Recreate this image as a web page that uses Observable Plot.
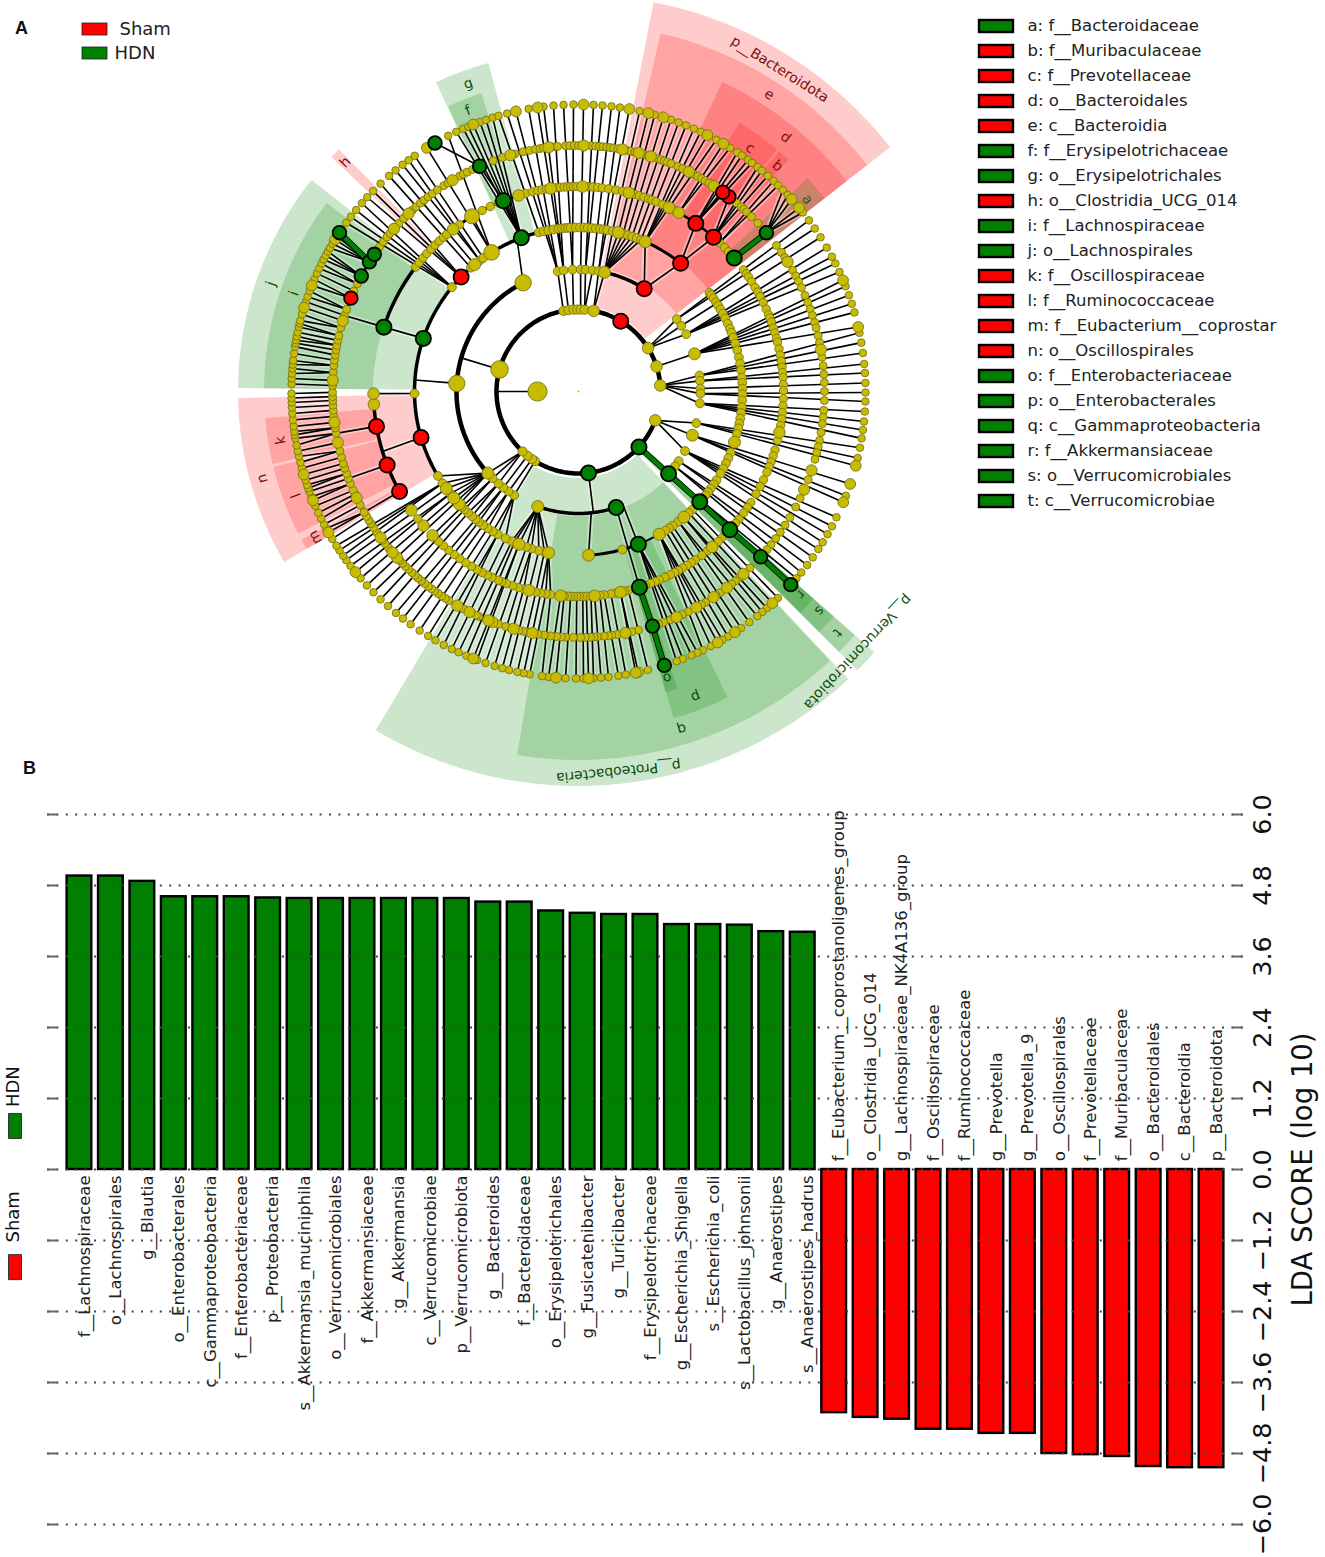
<!DOCTYPE html>
<html><head><meta charset="utf-8">
<script src="https://cdn.jsdelivr.net/npm/d3@7"></script>
<script src="https://cdn.jsdelivr.net/npm/@observablehq/plot@0.6"></script>
<style>html,body{margin:0;padding:0;background:#fff}svg{display:block}</style>
</head><body><div id="top"></div><div id="bottom"></div>
<script>
const FONT = "DejaVu Sans";
const GREEN = "#008000", RED = "#ff0000", YELLOW = "#c8bc00";

// ---------- panel A data: angle in degrees, clockwise from east ----------
const ringRadius = {0.5: 41, 1: 82, 2: 122, 3: 164, 4: 205, 5: 246, 6: 287};

const ring6 = [-36.6,-34.6,-32.5,-30.1,-28,-26.5,-24.6,-21.5,-19.6,-17.8,-16,-11.8,-9.8,-7.7,-5.5,-3.7,-1.7,0.2,2,4,6,7.7,9.4,11.3,13.4,21.3,26,28,29.8,31.7,33.3,35.3,37.2,39.1,40.6,
 46,49,50.2,51.5,53.5,55.5,58.6,59.9,62.5,64.3,65.5,66.8,68.7,70,76,80.5,82,84,85.5,87,89,90.5,92.6,96,97.3,99.8,101,102.3,104,105.4,107,108.9,110.7,113,114.7,116.2,118,119.9,121.6,123.6,125.8,127.7,129.5,131.6,133.6,135.6,137.5,139.4,142.6,144,145.1,146.4,147.5,149.1,151.5,152.4,153.7,155,156.5,158.5,159.6,160.3,161,162,164.5,165.7,166.9,168,169.2,170.6,171.3,172,173,174.3,175.6,176.8,177.8,178.7,179.6,
 -178.5,-177.4,-176.4,-175.4,-174.6,-173.8,-172.4,-171,-170.3,-169.7,-168.9,-168.1,-167,-166.3,-165.7,-164.4,-161.8,-160.7,-159.5,-157,-155.7,-154.6,-153.5,-152.6,-151.7,-150.8,-150,-149,-147.3,-144,-142.5,-140.8,-139,-137.4,-135.7,-133.6,-131.3,-129.6,-127.8,-126.3,-124.8,-117,-115.2,-113.7,-112.6,-110.1,-108.8,-107.4,-106.2,-104.4,-100,-97,-95,-93,-91,-87,-85.2,-83.4,-81.7,-77.7,-74.6,-71.2,-69.6,-68,-66.3,-64.8,-61.3,-58.1,-56.4,-55.3,-53.8,-52.8,-51.4,-50.3,-48.7,-47.2,-45.9,-44.6,-43.2,-38.6];
const ring6Big = [-22.8,-13,15,18.8,22.7,47.5,57,61,78,78.5,88,94.5,111.5,141,150.6,157.7,163.2,-163,-158.3,-148,-121.9,-111.5,-102.6,-98.2,-89,-79.8,-75.9,-72.8,-63.3,-59.7,-42,-39.8];

const ring5 = [-36.4,-34.4,-33,-29.5,-28,-26.6,-25,-23,-21.2,-19.6,-18,-16.3,-15,-13.1,-11.5,-8,-6,-4,-2.1,0,2.1,4.4,6,7.5,9.6,11.5,13,14.4,16,21,25.7,28,30.8,32.9,34.9,36.7,38.5,40,45.8,49,50.3,51.5,54.9,56,58.9,60,63.5,65,67.2,68,69.8,71,75.9,77.5,80.9,82.2,83,84,85.6,86.4,87.2,88.4,89.5,91.2,93,94,95.1,96.5,98,99.5,102,103,104,106,107.2,109,113.9,114.5,117.8,121.8,122.8,123.8,124.8,125.8,126.7,127.6,128.7,129.7,130.7,131.6,132.6,133.7,134.7,135.7,136.6,140.5,141.8,142.8,145,146.4,147.5,148.4,149.5,150.6,152.5,155.3,156.3,158,159.3,160.5,161.8,163,164.5,166,170.2,171.5,174.2,175.6,176.8,177.9,178.8,179.8,
 -178.6,-175.6,-173.9,-172.7,-171.5,-170.3,-169.2,-168,-166.9,-165,-162,-160.5,-155.9,-154,-144,-142.5,-141.1,-140,-136.9,-135.3,-132.5,-131.4,-130,-128.9,-127.7,-126.5,-125,-123.2,-122,-118.9,-117.9,-116.9,-115.5,-110.3,-108,-105,-103,-101.5,-100.1,-99,-98.2,-96,-94.9,-93,-92,-91,-90,-87,-86,-85.1,-84.3,-83.4,-82.6,-81.8,-80.8,-78.7,-77.7,-76.7,-74.4,-73.6,-71.2,-70.4,-69.6,-68.8,-67.9,-66.2,-65,-62,-61,-60,-59,-58,-50,-48.6,-47.8,-46.9,-45.3,-43.2];
const ring5Big = [-31.8,-9.8,18.7,23.5,47.9,52.9,56.7,61.4,66.5,79,100.8,105.3,110.5,111.5,116.3,119.5,137.5,139.1,143.6,154.4,168,172.8,-177.4,-163.3,-138.6,-133.7,-120.8,-106.1,-97,-88.8,-79.7,-75.8,-72.9,-63.3,-56.6];

const ring4 = [-36.4,-35,-34,-32.4,-30.5,-29,-27.6,-25.7,-23.7,-22,-21,-19.8,-18,-16.6,-15,-13.9,-12,-10.2,-8.5,-6.8,-5.3,-3.9,-2,-0.3,2,4,5.9,7.7,9.5,13.8,16.6,18.3,20.1,21.6,23.2,25.5,27.6,30,32.8,34.5,36.3,38.5,40,45.6,47,51,53,55.3,56.6,58,59.4,60.8,62,63.4,65,66.8,68,69.4,71,75.9,77,79.5,80.9,82.8,84,86.5,87.8,88.8,89.7,90.5,91.4,92.2,93,94,97.8,99.2,100.6,102,105.5,107,108.7,110.6,112,113,115,116.4,118,119.6,121.5,123.4,125.4,127.3,129.3,131.2,133,141.6,
 -142.6,-141,-139.3,-137.7,-136,-134.4,-132.8,-131.2,-130,-125.5,-118,-115.5,-113,-105,-103,-101.5,-100.2,-99,-96.4,-95.1,-94,-93.1,-92.2,-91.4,-90.5,-87.4,-86,-84.6,-83.3,-81.5,-79.5,-77.6,-74,-72.7,-71.4,-70,-69,-67.8,-65.8,-62,-46.5,-44.6,-43];
const ring4Big = [11.5,49.3,78.2,85.5,95,104,135.4,139.1,144.6,176.4,179.4,-127.7,-107,-97.8,-88.9,-75.8,-63.8,-60.7];
const ring4Huge = [-121.3];

const ring3 = [-37,-36,-34.6,-33,-31.6,-30,-28.3,-26.5,-24.4,-22.5,-21,-19.2,-17,-14.5,-12,-9.8,-7.5,-4.9,-3,-1,1,3.1,5.5,7.5,9.5,11.3,13,15,21.9,24,26,28,30,32.8,34.5,36.3,37.8,39.3,46,47.8,52.5,55,56.5,58,74.5,102,104,106.7,108.5,113,114,116.4,119.5,121.5,123.6,125.5,127.4,128.8,130.5,132.3,134,135.3,138,141.5,146,149,179.3,-140.5,-131,-127,-125.5,-104,-102.3,-100.6,-98.8,-97,-95.8,-94.6,-93.7,-92.8,-91,-89.5,-88,-86.8,-85.4,-84,-82.5,-81.2,-80,-78,-74.2,-72.6,-70.9,-69.2,-67.6];
const ring3Big = [18,50,60.5,86.5,100.5,111.3,136.6,139.5,143.7,-129.3,-75.9,-66];
const ring3Huge = [-122];

const ring2 = [-36.4,-32.6,-28,-7.5,-5,-1.4,1,5.6,15,29.2,34.8,37.8,121.8,125,128,131,134.7,-99.8,-97,-92.8,-89,-86.7,-83.4,-80.5];
const ring2Big = [-18,21,109.5,138,-77.7];
const ring2Huge = [-176.2,-117];

const ring1 = [122,124.5,128.5,133,-100.6,-97,-93.5,-90.8,-88.5,-85.7];
const ring1Big = [-32,-17.8,-4.2,20.6,-79.4];
const ring1Huge = [-164.4];
const innerBig = [180];

const shamNodes = [[1,-59],[2,-57.4],[3,-51.5],[4,-55.1],[4,-48.8],[5,-52.3],[5,-54.1],[3,-135.7],[5,-157.7],[3,163.7],[4,170.2],[4,159],[4,150.8]];
const hdnNodes = [[1,83],[1,42.5],[2,72],[2,42.4],[3,42.3],[4,42.4],[5,42.2],[6,42.3],[3,68.6],[4,72.7],[5,72.5],[6,72.6],[4,-40.6],[5,-40.2],[3,-161.1],[4,-161.7],[3,-110.4],[4,-111.5],[5,-113.7],[6,-120],[5,-152],[5,-148.2],[5,-146.1],[6,-146.4]];

// which inner ring the outer spokes run to in each span of angles: from, to, ring, optional single parent
const leafBase = [[-37.5,41,2],[46,72,3],[72,110,4],[110,149,3],[149,180.1,5],[-180.1,-146,5],[-146,-105,3],[-105,-78,2],[-78,-60,3],[-60,-45,4],[-45,-37.5,5,-40.2]];
// spans of inner-ring nodes that have a spoke of their own
const innerSpokes = {
  2: [[-37,27],[116,140],[-105,-60]],
  3: [[97,149],[-78,-60]],
  4: [[97,110]]
};
const extraLinks = [[0.5,180,1,180],[1,-164.4,2,-164],[1,83,2,83],[2,-176.2,3,-176],[3,179.3,4,179.4],[3,-161.1,4,-161.7],[4,-161.7,5,-162],[3,163.7,4,163],[4,170.2,5,170.2],[4,159,5,159.3],[4,150.8,5,150.6],[2,-117,3,-112],[3,86.5,2,84],[2,72,4,72.7],[2,68.6,3,68.6],[1,20.6,2,29.2],[3,-51.5,4,-55.1],[3,-51.5,4,-48.8],[4,-55.1,5,-54.1],[4,-48.8,5,-52.3],[3,-110.4,4,-111.5],[4,-111.5,5,-113.7],[5,-113.7,6,-120],[3,-51.5,2,-57.4],[3,-122,4,-121.3]];
const arcs = [[1,120,356,4.5],[1,20.6,122,4.5],[2,138,243,4.5],[2,-77.7,-57.4,3.5],[2,72,109.5,3.5],[3,149,256,3.5],[3,-66,-51.5,3],[3,68.6,86.5,3],[3,50,68.6,2],[3,100.5,116,2.5],[4,150.8,176.4,3.5],[4,-161.7,-142.6,3.5],[4,-127.7,-107,3],[4,-60.7,-44.6,2.5],[4,72.7,49.3,2],[4,72.7,97,2],[5,-180,-146,2.5],[5,146,180,2.5]];
const greenLinks = [[1,42.5,2,42.4],[2,42.4,3,42.3],[3,42.3,4,42.4],[4,42.4,5,42.2],[5,42.2,6,42.3],[4,72.7,5,72.5],[5,72.5,6,72.6],[4,-40.6,5,-40.2],[5,-148.2,6,-146.4]];

// name, first angle, last angle, inner radius, outer radius, colour
const sectors = [
 ["p__Bacteroidota",-79,-38,85,396,RED],["e",-77,-38,125,367,RED],["d",-65,-38,165,341,RED],["c",-59,-50.5,205,313,RED],["b",-50,-47.7,205,313,RED],["a",-42.8,-38,205,313,GREEN],
 ["g",-114.7,-105.3,165,340,GREEN],["f",-114.5,-108,205,313,GREEN],["h",-136.5,-134.7,165,340,RED],
 ["j",-179.5,-141.6,165,340,GREEN],["i",-179.5,-143.2,205,314,GREEN],
 ["n",149.8,178.8,165,340,RED],["k",166.5,175,205,314,RED],["l",153,166,205,314,RED],["m",149.8,151.7,205,314,RED],
 ["p__Proteobacteria",46.8,120.8,87,395,GREEN],["q",47,99.5,125,369,GREEN],["p",64,73.7,165,341,GREEN],["o",71.5,73.8,205,314,GREEN],
 ["p__Verrucomicrobiota",41.4,45,85,395,GREEN],["t",41.4,45,125,369,GREEN],["s",41.4,45,165,341,GREEN],["r",41.4,45,205,314,GREEN]
];
// label, radius, angle, colour
const sectorLabels = [
 ["p__Bacteroidota",380,-58,"#7a1010"],["e",353,-57.3,"#7a1010"],["d",328,-50.8,"#7a1010"],["c",298,-54.8,"#7a1010"],["b",301,-48.6,"#7a1010"],["a",299,-40,"#2d5a10"],
 ["g",327,-109.7,"#0d4d0d"],["f",302,-111.5,"#0d4d0d"],["h",327,-135.5,"#7a1010"],["j",326,-160.7,"#0d4d0d"],["i",301,-161,"#0d4d0d"],
 ["n",328,164.6,"#7a1010"],["k",302,170.7,"#7a1010"],["l",301,159.8,"#7a1010"],["m",301,151,"#7a1010"],
 ["p__Proteobacteria",382,84,"#0d4d0d"],["q",353,73,"#0d4d0d"],["p",327,69,"#0d4d0d"],["o",300,72.8,"#0d4d0d"],
 ["p__Verrucomicrobiota",382,43,"#0d4d0d"],["t",354,43,"#0d4d0d"],["s",326,42.3,"#0d4d0d"],["r",301,42.4,"#0d4d0d"]
];

const cladeNames = ["a: f__Bacteroidaceae","b: f__Muribaculaceae","c: f__Prevotellaceae","d: o__Bacteroidales","e: c__Bacteroidia","f: f__Erysipelotrichaceae","g: o__Erysipelotrichales","h: o__Clostridia_UCG_014","i: f__Lachnospiraceae","j: o__Lachnospirales","k: f__Oscillospiraceae","l: f__Ruminococcaceae","m: f__Eubacterium__coprostar","n: o__Oscillospirales","o: f__Enterobacteriaceae","p: o__Enterobacterales","q: c__Gammaproteobacteria","r: f__Akkermansiaceae","s: o__Verrucomicrobiales","t: c__Verrucomicrobiae"];
const cladeGroup = ["HDN","Sham","Sham","Sham","Sham","HDN","HDN","Sham","HDN","HDN","Sham","Sham","Sham","Sham","HDN","HDN","HDN","HDN","HDN","HDN"];
const groupNames = ["Sham","HDN"];

// ---------- panel B data ----------
const taxa = ["f__Lachnospiraceae","o__Lachnospirales","g__Blautia","o__Enterobacterales","c__Gammaproteobacteria","f__Enterobacteriaceae","p__Proteobacteria","s__Akkermansia_muciniphila","o__Verrucomicrobiales","f__Akkermansiaceae","g__Akkermansia","c__Verrucomicrobiae","p__Verrucomicrobiota","g__Bacteroides","f__Bacteroidaceae","o__Erysipelotrichales","g__Fusicatenibacter","g__Turicibacter","f__Erysipelotrichaceae","g__Escherichia_Shigella","s__Escherichia_coli","s__Lactobacillus_johnsonii","g__Anaerostipes","s__Anaerostipes_hadrus",
 "f__Eubacterium__coprostanoligenes_group","o__Clostridia_UCG_014","g__Lachnospiraceae_NK4A136_group","f__Oscillospiraceae","f__Ruminococcaceae","g__Prevotella","g__Prevotella_9","o__Oscillospirales","f__Prevotellaceae","f__Muribaculaceae","o__Bacteroidales","c__Bacteroidia","p__Bacteroidota"];
const ldaScores = [4.96,4.96,4.87,4.61,4.61,4.61,4.59,4.58,4.58,4.58,4.58,4.58,4.58,4.52,4.52,4.37,4.33,4.31,4.31,4.14,4.14,4.13,4.02,4.01,
 -4.11,-4.19,-4.22,-4.39,-4.39,-4.46,-4.46,-4.80,-4.82,-4.85,-5.02,-5.04,-5.04];
const ldaTicks = [-6,-4.8,-3.6,-2.4,-1.2,0,1.2,2.4,3.6,4.8,6];

// ---------- helpers ----------
const rad = a => a * Math.PI / 180;
const polar = (r, a) => ({x: r * Math.cos(rad(a)), y: r * Math.sin(rad(a))});
const node = (ring, a) => ({ring, a, ...polar(ringRadius[ring], a)});
const link = (p, q) => ({x1: p.x, y1: p.y, x2: q.x, y2: q.y});
const circDiff = (a, b) => Math.abs(((a - b + 540) % 360) - 180);
const px = x => x - 578, py = y => y - 391;

const special = shamNodes.concat(hdnNodes);
const withSpecial = (k, ...lists) => [...lists.flat(), ...special.filter(d => d[0] === k).map(d => d[1])];
const byRing = {
  1: withSpecial(1, ring1, ring1Big, ring1Huge),
  2: withSpecial(2, ring2, ring2Big, ring2Huge),
  3: withSpecial(3, ring3, ring3Big, ring3Huge),
  4: withSpecial(4, ring4, ring4Big, ring4Huge),
  5: withSpecial(5, ring5, ring5Big),
  6: withSpecial(6, ring6, ring6Big)
};
const spokes = [];
for (const a of byRing[6]) {
  if (Math.abs(a - 42.3) < 0.01 || Math.abs(a - 72.6) < 0.01 || Math.abs(a + 120) < 0.01 || Math.abs(a + 146.4) < 0.01) continue;
  const rule = leafBase.find(([lo, hi]) => a >= lo && a < hi);
  if (!rule) continue;
  const parent = rule[3] !== undefined ? rule[3] : d3.least(byRing[rule[2]], b => circDiff(a, b));
  spokes.push(link(node(6, a), node(rule[2], parent)));
}
for (const k of [2, 3, 4]) {
  for (const a of byRing[k]) {
    if (!innerSpokes[k].some(([lo, hi]) => a >= lo && a <= hi)) continue;
    const parent = d3.least(byRing[k - 1], b => circDiff(a, b));
    spokes.push(link(node(k, a), node(k - 1, parent)));
  }
}
for (const [r1, a1, r2, a2] of extraLinks) spokes.push(link(node(r1, a1), node(r2, a2)));
const greenSegs = greenLinks.map(([r1, a1, r2, a2]) => link(node(r1, a1), node(r2, a2)));

const arcPts = arcs.flatMap(([ring, a0, a1, w], i) =>
  d3.range(0, Math.abs(a1 - a0), 1).concat(Math.abs(a1 - a0)).map(t => ({...polar(ringRadius[ring], a0 + Math.sign(a1 - a0) * t), i, w})));

const sectorMarks = sectors.map(([name, a0, a1, r0, r1, color]) => {
  const pts = d3.range(a0, a1, 0.5).concat(a1).map(a => {
    const p = polar(r0, a), q = polar(r1, a);
    return {x1: p.x, y1: p.y, x2: q.x, y2: q.y};
  });
  return Plot.area(pts, {x1: "x1", y1: "y1", x2: "x2", y2: "y2", fill: color, fillOpacity: 0.2});
});

const dots = (list, ring, r) => Plot.dot(list.map(a => node(ring, a)), {x: "x", y: "y", r, fill: YELLOW, stroke: "#77731f", strokeWidth: 0.9});
const colored = (list, fill) => [
  Plot.dot(list.filter(d => d[0] < 5).map(([k, a]) => node(k, a)), {x: "x", y: "y", r: 7.6, fill, stroke: "#000", strokeWidth: 1.8}),
  Plot.dot(list.filter(d => d[0] >= 5).map(([k, a]) => node(k, a)), {x: "x", y: "y", r: 6.8, fill, stroke: "#000", strokeWidth: 1.8})
];

const labelRows = sectorLabels.map(([t, r, a, c]) => ({t, c, ...polar(r, a), rot: a + 90}));
const legendRows = cladeNames.map((t, i) => ({t, g: cladeGroup[i], i}));
const groupRows = groupNames.map((t, i) => ({t, i}));

const topPlot = Plot.plot({
  width: 1325, height: 790, margin: 0,
  x: {domain: [-578, 747], range: [0, 1325], axis: null},
  y: {domain: [-391, 399], range: [0, 790], axis: null},
  marks: [
    ...sectorMarks,
    Plot.link(spokes, {x1: "x1", y1: "y1", x2: "x2", y2: "y2", stroke: "#fff", strokeOpacity: 0.35, strokeWidth: 5.5}),
    Plot.link(spokes, {x1: "x1", y1: "y1", x2: "x2", y2: "y2", stroke: "#000", strokeWidth: 1.6}),
    Plot.line(arcPts, {x: "x", y: "y", z: "i", stroke: "#000", strokeWidth: d => d.w, strokeLinecap: "butt"}),
    Plot.link(greenSegs, {x1: "x1", y1: "y1", x2: "x2", y2: "y2", stroke: "#000", strokeWidth: 6}),
    Plot.link(greenSegs, {x1: "x1", y1: "y1", x2: "x2", y2: "y2", stroke: GREEN, strokeWidth: 4.4}),
    dots(ring6, 6, 3.8), dots(ring6Big, 6, 5.4),
    dots(ring5, 5, 4), dots(ring5Big, 5, 5.6),
    dots(ring4, 4, 4.2), dots(ring4Big, 4, 5.8), dots(ring4Huge, 4, 7.5),
    dots(ring3, 3, 4.4), dots(ring3Big, 3, 6), dots(ring3Huge, 3, 7.8),
    dots(ring2, 2, 4.4), dots(ring2Big, 2, 6), dots(ring2Huge, 2, 8.2),
    dots(ring1, 1, 4.6), dots(ring1Big, 1, 5.8), dots(ring1Huge, 1, 8.8),
    dots(innerBig, 0.5, 9.6),
    Plot.dot([{x: 0, y: 0}], {x: "x", y: "y", r: 1, fill: YELLOW}),
    ...colored(shamNodes, RED), ...colored(hdnNodes, GREEN),
    Plot.text(labelRows, {x: "x", y: "y", text: "t", rotate: "rot", fill: "c", fontSize: 14, fontFamily: FONT, textAnchor: "middle", lineAnchor: "middle"}),
    // group legend
    Plot.rect(groupRows, {x1: px(82), x2: px(107), y1: d => py(23 + 24 * d.i), y2: d => py(35 + 24 * d.i), fill: d => d.t === "Sham" ? RED : GREEN, stroke: "#222", strokeWidth: 0.8}),
    Plot.text(groupRows, {x: d => px(d.t === "Sham" ? 119 : 114), y: d => py(29 + 24 * d.i), text: "t", textAnchor: "start", fontSize: 18, fontFamily: FONT, fill: "#222"}),
    // clade legend
    Plot.rect(legendRows, {x1: px(979), x2: px(1013), y1: d => py(20 + 25 * d.i), y2: d => py(32 + 25 * d.i), fill: d => d.g === "Sham" ? RED : GREEN, stroke: "#000", strokeWidth: 2.4}),
    Plot.text(legendRows, {x: px(1027), y: d => py(25.7 + 25 * d.i), text: "t", textAnchor: "start", fontSize: 16.5, fontFamily: FONT, fill: "#222"}),
    Plot.text([{t: "A", x: px(21), y: py(28)}, {t: "B", x: px(29), y: py(768)}], {x: "x", y: "y", text: "t", fontSize: 18, fontWeight: "bold", fontFamily: "Liberation Sans", fill: "#111"})
  ]
});
document.getElementById("top").append(topPlot);

// ---------- panel B ----------
const rows = taxa.map((name, i) => ({name, lda: ldaScores[i]}));
const swatch = {draw(ctx) { ctx.rect(-6.5, -12.5, 13, 25); }};
const labelMark = (list, y, textAnchor) => Plot.text(list, {x: "name", y: () => y, text: "name", rotate: -90, dx: 5, textAnchor, lineAnchor: "middle", fontSize: 16.5, fontFamily: FONT, fill: "#222"});
const bottomPlot = Plot.plot({
  width: 1325, height: 767,
  marginLeft: 47, marginRight: 82, marginTop: 0, marginBottom: 0,
  x: {domain: taxa, range: [66.6, 1223.4], paddingInner: 0.214, paddingOuter: 0, round: false, axis: null},
  y: {domain: [-6, 6], range: [734, 24], axis: null},
  marks: [
    Plot.barY(rows, {x: "name", y: "lda", fill: d => d.lda > 0 ? GREEN : RED, stroke: "#000", strokeWidth: 2.4}),
    Plot.ruleY(ldaTicks, {stroke: "#444", strokeWidth: 1.8, strokeDasharray: "2 7.4"}),
    Plot.ruleY(ldaTicks, {stroke: "#666", strokeWidth: 2, insetRight: 1186}),
    Plot.ruleY(ldaTicks, {stroke: "#666", strokeWidth: 2, insetLeft: 1185}),
    labelMark(rows.filter(d => d.lda > 0), -0.1, "end"),
    labelMark(rows.filter(d => d.lda < 0), 0.14, "start"),
    Plot.text(ldaTicks, {frameAnchor: "right", y: d => d, dx: 19, text: d => (d < 0 ? "\u2212" : "") + Math.abs(d).toFixed(1), rotate: -90, textAnchor: "middle", lineAnchor: "middle", fontSize: 25.5, fontFamily: FONT, fill: "#111"}),
    Plot.text([{y: 0, t: "LDA SCORE (log 10)"}], {frameAnchor: "right", y: "y", dx: 60, text: "t", rotate: -90, textAnchor: "middle", lineAnchor: "middle", fontSize: 27.5, fontFamily: FONT, fill: "#111"}),
    Plot.text([{y: 1.4, t: "HDN"}, {y: -0.8, t: "Sham"}], {frameAnchor: "left", y: "y", dx: -34.5, text: "t", rotate: -90, textAnchor: "middle", lineAnchor: "middle", fontSize: 18, fontFamily: FONT, fill: "#111"}),
    Plot.dot([{y: 0.736, f: GREEN}, {y: -1.65, f: RED}], {frameAnchor: "left", y: "y", dx: -32.5, symbol: swatch, fill: "f", stroke: "#333", strokeWidth: 1})
  ]
});
document.getElementById("bottom").append(bottomPlot);
</script></body></html>
